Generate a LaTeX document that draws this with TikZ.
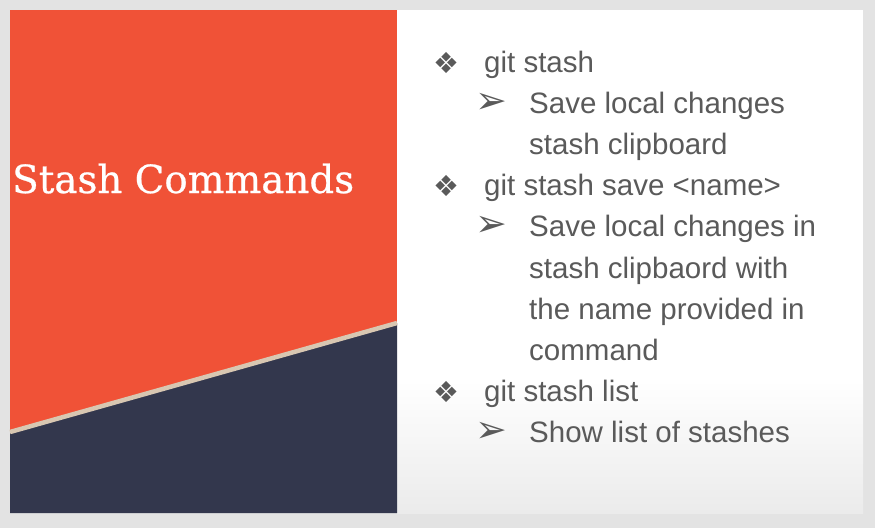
\documentclass[tikz,border=0pt]{standalone}
\usepackage{fontspec}
\setmainfont{Liberation Sans}
\newfontfamily\titlefont[FakeBold=0.6]{DejaVu Serif}
\newfontfamily\symfont{DejaVu Sans}
\definecolor{outerbg}{HTML}{E3E3E3}
\definecolor{slideor}{HTML}{F05237}
\definecolor{slidenavy}{HTML}{33374D}
\definecolor{beige}{HTML}{D8C7B2}
\definecolor{txtgray}{HTML}{5A5A5A}
\definecolor{fadegray}{HTML}{EBEBEB}
\begin{document}
\begin{tikzpicture}[x=1pt,y=-1pt,
  lvlone/.style={anchor=base west,inner sep=0pt,text=txtgray,font=\fontsize{29.5}{31}\selectfont},
  lvltwo/.style={anchor=base west,inner sep=0pt,text=txtgray,font=\fontsize{29.5}{31}\selectfont},
  diam/.style={anchor=center,inner sep=0pt,text=txtgray,font=\symfont\fontsize{29}{31}\selectfont},
  arrw/.style={anchor=center,inner sep=0pt,text=txtgray,font=\symfont\fontsize{38}{40}\selectfont}]
\useasboundingbox (0,0) rectangle (875,528);
\fill[outerbg] (0,0) rectangle (875,528);
% white panel with bottom fade
\fill[white] (397,10) rectangle (863,513);
\shade[top color=white,bottom color=fadegray] (397,380) rectangle (863,513);
% left panel
\fill[slideor] (10,10) rectangle (397,513);
\fill[slidenavy] (10,432) -- (397,323) -- (397,513) -- (10,513) -- cycle;
\draw[beige,line width=4.5pt] (10,432) -- (397,323);
% title
\node[anchor=base west,inner sep=0pt,text=white,font=\titlefont\fontsize{38.8}{42}\selectfont] (title) at (12,193) {Stash Commands};
% bullets
\node[diam] (b1) at (446,62.5) {❖};
\node[lvlone] (t1) at (484,72) {git stash};
\node[arrw] (a1) at (491,103) {➢};
\node[lvltwo] (t2) at (529,113.2) {Save local changes};
\node[lvltwo] (t3) at (529,154.4) {stash clipboard};
\node[diam] (b2) at (446,186.1) {❖};
\node[lvlone] (t4) at (484,195.6) {git stash save <name>};
\node[arrw] (a2) at (491,226.8) {➢};
\node[lvltwo] (t5) at (529,236.8) {Save local changes in};
\node[lvltwo] (t6) at (529,278) {stash clipbaord with};
\node[lvltwo] (t7) at (529,319.2) {the name provided in};
\node[lvltwo] (t8) at (529,360.4) {command};
\node[diam] (b3) at (446,392.1) {❖};
\node[lvlone] (t9) at (484,401.6) {git stash list};
\node[arrw] (a3) at (491,432.8) {➢};
\node[lvltwo] (t10) at (529,442.8) {Show list of stashes};
\end{tikzpicture}
\end{document}
